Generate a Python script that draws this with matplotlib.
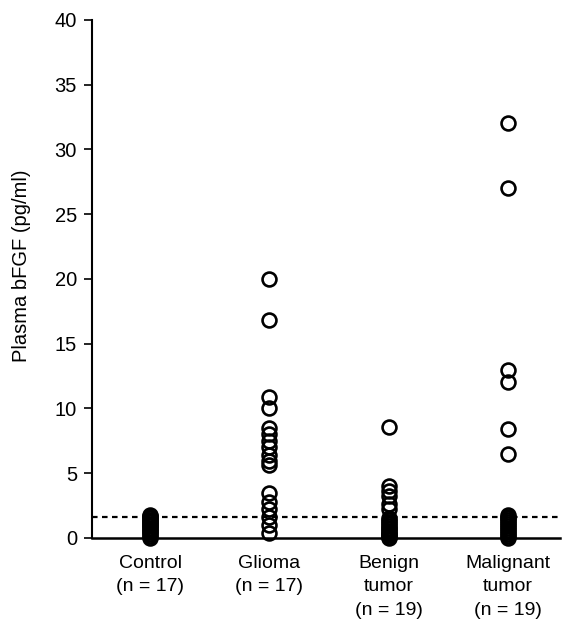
import numpy as np
import matplotlib.pyplot as plt

plt.rcParams['font.family'] = ['Liberation Sans', 'DejaVu Sans']

groups = ["Control\n(n = 17)", "Glioma\n(n = 17)", "Benign\ntumor\n(n = 19)", "Malignant\ntumor\n(n = 19)"]

control = [1.8, 1.7, 1.6, 1.5, 1.4, 1.3, 1.2, 1.1, 1.0, 0.9, 0.8, 0.7, 0.55, 0.45, 0.3, 0.15, 0.0]
glioma = [20.0, 16.8, 10.9, 10.0, 8.5, 8.0, 7.5, 7.0, 6.4, 5.9, 5.6, 3.5, 2.8, 2.2, 1.6, 1.0, 0.4]
benign = [8.6, 4.0, 3.6, 3.2, 2.6, 2.2, 1.5, 1.35, 1.2, 1.05, 0.9, 0.8, 0.65, 0.5, 0.4, 0.3, 0.2, 0.1, 0.0]
malignant = [32.0, 27.0, 13.0, 12.0, 8.4, 6.5, 1.8, 1.65, 1.5, 1.35, 1.2, 1.05, 0.9, 0.75, 0.6, 0.45, 0.3, 0.15, 0.0]
cutoff = 1.6

fig = plt.figure(figsize=(5.62, 6.19), dpi=100)
ax = fig.add_axes([0.164, 0.131, 0.833, 0.837])

for i, vals in enumerate([control, glioma, benign, malignant]):
    ax.plot([i] * len(vals), vals, 'o', markersize=10, markerfacecolor='none',
            markeredgecolor='black', markeredgewidth=1.9, clip_on=False, zorder=3)

ax.axhline(cutoff, color='black', linestyle=(0, (2.5, 2)), linewidth=1.6)

ax.set_xlim(-0.486, 3.44)
ax.set_ylim(0, 40)
ax.set_yticks(range(0, 41, 5))
ax.set_xticks(range(4))
ax.set_xticklabels(groups, fontsize=14, va='top', linespacing=1.5)
ax.tick_params(axis='x', length=0, pad=12)
ax.tick_params(axis='y', labelsize=14.5, length=6, width=1.2, direction='out', pad=5)
ax.set_ylabel("Plasma bFGF (pg/ml)", fontsize=14.5)
ax.yaxis.set_label_coords(-0.131, 0.525)

ax.spines['top'].set_visible(False)
ax.spines['right'].set_visible(False)
ax.spines['left'].set_linewidth(1.5)
ax.spines['bottom'].set_linewidth(1.8)

fig.savefig("out.png", dpi=100)
